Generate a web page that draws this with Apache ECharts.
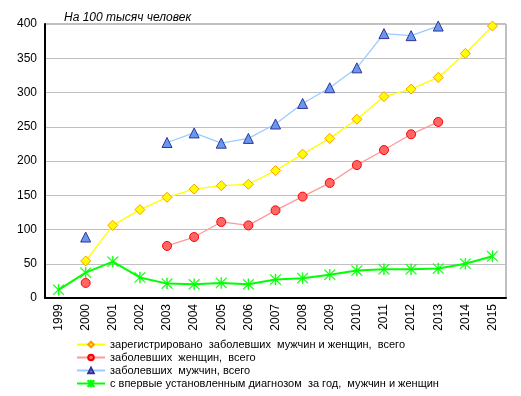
<!DOCTYPE html>
<html>
<head>
<meta charset="utf-8">
<script src="https://cdn.jsdelivr.net/npm/echarts@6/dist/echarts.min.js"></script>
<style>
html, body { margin: 0; padding: 0; background: #fff; }
#chart { width: 521px; height: 396px; }
</style>
</head>
<body>
<div id="chart"></div>
<script>
var years = ['1999', '2000', '2001', '2002', '2003', '2004', '2005', '2006', '2007',
    '2008', '2009', '2010', '2011', '2012', '2013', '2014', '2015'];
var yTicks = [0, 50, 100, 150, 200, 250, 300, 350, 400];

// зарегистрировано заболевших мужчин и женщин, всего
var totalAll = [null, 54, 106, 129, 147, 159, 164, 166, 186, 210, 233, 261, 294, 305, 322, 357, 397];
// заболевших женщин, всего
var women = [null, 22, null, null, 76, 89, 111, 106, 128, 148, 168, 194, 216, 239, 257, null, null];
// заболевших мужчин, всего
var men = [null, 89, null, null, 227, 241, 226, 233, 254, 284, 307, 336, 386, 383, 397, null, null];
// с впервые установленным диагнозом за год
var firstTime = [12, 37, 53, 30, 21, 20, 22, 20, 27, 29, 34, 40, 42, 42, 43, 50, 61];

var names = [
    'зарегистрировано  заболевших  мужчин и женщин,  всего',
    'заболевших  женщин,  всего',
    'заболевших  мужчин, всего',
    'с впервые установленным диагнозом  за год,  мужчин и женщин'
];

var starPath = 'path://M9.3 0H10.7V20H9.3Z M1.5 0.6L19.4 18.5L18.5 19.4L0.6 1.5Z M18.5 0.6L19.4 1.5L1.5 19.4L0.6 18.5Z';

var chartDom = document.getElementById('chart');
var myChart = echarts.init(chartDom);
var option;

option = {
    animation: false,
    textStyle: { fontFamily: 'Liberation Sans, Arial, sans-serif' },
    title: {
        text: 'На 100 тысяч человек',
        left: 59,
        top: 7,
        textStyle: {
            fontSize: 12,
            fontStyle: 'italic',
            fontWeight: 'normal',
            color: '#000'
        }
    },
    grid: {
        left: 45,
        right: 15,
        top: 24,
        bottom: 98,
        show: true,
        borderColor: '#808080',
        borderWidth: 1
    },
    legend: {
        orient: 'vertical',
        left: 76,
        top: 339,
        itemWidth: 28,
        itemHeight: 7,
        itemGap: 2,
        padding: 0,
        textStyle: { fontSize: 11, color: '#000', lineHeight: 11 },
        data: names
    },
    xAxis: {
        type: 'category',
        data: years,
        axisLine: { lineStyle: { color: '#000', width: 2 } },
        axisTick: { show: false },
        axisLabel: {
            rotate: 90,
            interval: 0,
            margin: 6,
            fontSize: 12,
            color: '#000'
        }
    },
    yAxis: {
        type: 'value',
        min: yTicks[0],
        max: yTicks[yTicks.length - 1],
        interval: 50,
        axisLine: { show: true, lineStyle: { color: '#000', width: 2 } },
        axisTick: { show: false },
        axisLabel: { fontSize: 12, color: '#000', margin: 8 },
        splitLine: { lineStyle: { color: '#c0c0c0', width: 1 } }
    },
    series: [
        {
            name: names[0],
            type: 'line',
            data: totalAll,
            symbol: 'diamond',
            symbolSize: 10,
            lineStyle: { color: '#ffff00', width: 1.3 },
            itemStyle: { color: '#ffff00', borderColor: '#ff9900', borderWidth: 1 }
        },
        {
            name: names[1],
            type: 'line',
            data: women,
            symbol: 'circle',
            symbolSize: 9,
            lineStyle: { color: '#ff9999', width: 1.3 },
            itemStyle: { color: '#ff6666', borderColor: '#ff0000', borderWidth: 1 }
        },
        {
            name: names[2],
            type: 'line',
            data: men,
            symbol: 'triangle',
            symbolSize: 10,
            lineStyle: { color: '#99ccff', width: 1.3 },
            itemStyle: { color: '#6699ee', borderColor: '#333399', borderWidth: 1 }
        },
        {
            name: names[3],
            type: 'line',
            data: firstTime,
            symbol: starPath,
            symbolSize: 11,
            lineStyle: { color: '#00ff00', width: 2 },
            itemStyle: { color: '#00ff00', borderColor: '#00ff00', borderWidth: 0.5 }
        }
    ]
};

option && myChart.setOption(option);

window.addEventListener('resize', myChart.resize);
</script>
</body>
</html>
